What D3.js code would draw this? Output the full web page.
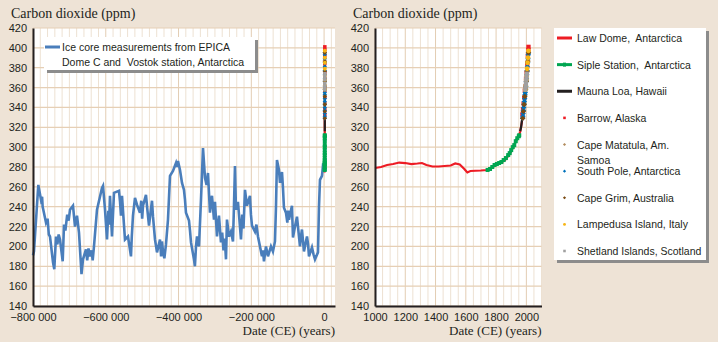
<!DOCTYPE html>
<html>
<head>
<meta charset="utf-8">
<script src="https://cdn.jsdelivr.net/npm/d3@7"></script>
<style>
  body { margin: 0; background: #EEE3D6; }
  svg { display: block; }
  text { white-space: pre; }
</style>
</head>
<body>
<svg id="chart" width="718" height="342"></svg>
<script>
// EPICA Dome C / Vostok ice core record (years CE, ppm)
const epicaYear = [-800000, -797300, -785400, -778000, -775000, -773500, -771700, -764300, -760000, -756500,
  -753300, -745000, -741500, -736800, -733000, -729500, -725800, -718400, -714800, -711000,
  -706000, -702000, -698300, -690100, -684600, -679100, -673600, -666700, -662600, -654400,
  -651000, -647500, -643400, -639000, -636000, -632400, -624100, -610400, -607600, -602100,
  -596600, -593000, -591000, -588400, -582900, -577400, -563700, -561000, -558200, -555400,
  -547200, -538900, -530700, -528500, -525200, -519700, -514200, -506000, -502500, -500000,
  -497700, -489500, -486000, -481200, -473000, -470200, -464700, -459200, -451000, -448000,
  -445500, -442800, -439000, -434500, -429000, -423500, -415300, -407000, -404500, -401500,
  -396000, -393000, -390500, -385100, -382500, -379600, -371300, -368500, -365800, -357600,
  -355000, -352000, -349300, -343800, -338300, -332800, -327300, -323000, -319100, -313600,
  -311000, -308100, -302600, -299900, -294400, -288900, -283400, -280000, -276500, -273000,
  -269600, -266900, -261400, -255900, -250400, -247700, -244900, -242200, -236700, -228400,
  -225000, -221500, -217400, -211900, -203700, -201000, -198200, -190000, -186000, -181700,
  -170700, -168000, -165200, -159700, -154200, -146000, -140500, -135000, -132200, -129500,
  -124000, -121200, -115700, -113000, -110300, -104800, -101000, -99000, -96500, -88300,
  -85500, -80000, -74500, -66300, -63500, -60800, -55300, -47000, -44000, -41500,
  -33300, -29000, -25000, -16800, -14000, -11300, -5800, -3100, -1000];
const epicaCO2 = [191, 195, 262, 247, 250, 240, 237, 224, 228, 212,
  210, 184, 177, 210, 202, 212, 207, 185, 222, 216,
  232, 226, 237, 241, 220, 231, 214, 172, 187, 197,
  186, 198, 190, 196, 186, 200, 237, 259, 261, 237,
  207, 236, 222, 251, 210, 254, 256, 246, 231, 251,
  207, 210, 190, 210, 231, 249, 242, 234, 246, 228,
  241, 252, 238, 221, 246, 230, 207, 194, 207, 190,
  205, 195, 188, 202, 227, 271, 276, 284, 280, 286,
  277, 270, 264, 257, 248, 234, 226, 216, 204, 187,
  180, 200, 210, 200, 247, 299, 269, 262, 274, 234,
  244, 251, 227, 245, 210, 231, 204, 214, 196, 208,
  187, 227, 210, 215, 205, 240, 281, 237, 245, 207,
  232, 218, 257, 241, 251, 232, 221, 215, 222, 210,
  190, 196, 185, 200, 190, 200, 195, 205, 240, 287,
  277, 264, 275, 259, 239, 234, 224, 236, 227, 241,
  209, 220, 230, 200, 210, 217, 195, 210, 202, 190,
  199, 192, 187, 194, 240, 267, 271, 281, 280];

// Law Dome, Antarctica
const lawDomeYear = [1000, 1040, 1080, 1120, 1160, 1200, 1240, 1280, 1310, 1340, 1380, 1420, 1460, 1500,
  1530, 1560, 1590, 1610, 1630, 1700, 1740, 1780, 1800, 1830, 1860, 1890, 1910, 1930, 1950, 1960, 1970, 1978];
const lawDomeCO2 = [279, 280, 282, 283, 284.5, 284, 283, 283.5, 284, 282, 280.5, 280.5, 281, 281.5,
  283.5, 282.5, 278, 274.5, 276, 276.5, 277, 280, 283, 284, 287, 293, 299, 306, 311, 316, 325, 334];

// Siple Station, Antarctica
const sipleYear = [1744, 1760, 1775, 1790, 1805, 1820, 1835, 1850, 1865, 1880, 1890, 1900, 1910, 1920, 1930, 1940, 1950, 1953];
const sipleCO2 = [277, 278, 280, 282, 283, 284, 285, 287, 289, 292, 294, 297, 300, 302, 306, 309, 311, 312];

// Mauna Loa, Hawaii
const maunaLoaYear = [1959, 1965, 1970, 1975, 1980, 1985, 1990, 1995, 2000, 2005, 2010, 2014];
const maunaLoaCO2 = [316, 320, 326, 331, 339, 346, 354, 361, 370, 380, 390, 398];

// flask stations
const barrowYear = [1974, 1978, 1982, 1986, 1990, 1994, 1998, 2002, 2006, 2010, 2013, 2014];
const barrowCO2 = [333, 338, 344, 350, 357, 361, 369, 375, 384, 392, 398, 401];
const matatulaYear = [1976, 1980, 1985, 1990, 1995, 2000, 2005, 2010, 2014];
const matatulaCO2 = [330, 337, 344, 352, 359, 367, 377, 387, 395];
const southPoleYear = [1975, 1977, 1979, 1981, 1983, 1985, 1987, 1989, 1991, 1993, 1995, 1997, 1999, 2001, 2003, 2005, 2007, 2009, 2011, 2013, 2014];
const southPoleCO2 = [329, 331, 334, 337, 340, 343, 346, 349, 353, 355, 358, 361, 366, 369, 373, 377, 381, 385, 389, 393, 395];
const capeGrimYear = [1976, 1980, 1985, 1990, 1995, 2000, 2005, 2010, 2014];
const capeGrimCO2 = [329, 336, 343, 351, 358, 366, 376, 386, 395];
const lampedusaYear = [1993, 1996, 1999, 2002, 2005, 2008, 2011, 2014];
const lampedusaCO2 = [358, 362, 368, 372, 379, 385, 390, 397];
const shetlandYear = [1993, 1995, 1997, 1999, 2001, 2003];
const shetlandCO2 = [358, 361, 364, 368, 371, 374];

const yTicks = [140, 160, 180, 200, 220, 240, 260, 280, 300, 320, 340, 360, 380, 400, 420];
const leftXTicks = [-800000, -600000, -400000, -200000, 0];
const rightXTicks = [1000, 1200, 1400, 1600, 1800, 2000];

const zip = (xs, ys) => xs.map((x, i) => ({ x: x, y: ys[i] }));

const lines = [
  { name: "Law Dome,  Antarctica", data: zip(lawDomeYear, lawDomeCO2), color: "#ED1C24", type: "line" },
  { name: "Siple Station,  Antarctica", data: zip(sipleYear, sipleCO2), color: "#00A651", type: "siple" },
  { name: "Mauna Loa, Hawaii", data: zip(maunaLoaYear, maunaLoaCO2), color: "#231F20", type: "line" },
  { name: "Barrow, Alaska", data: zip(barrowYear, barrowCO2), color: "#ED1C24", type: "square" },
  { name: "Cape Matatula, Am.|Samoa", data: zip(matatulaYear, matatulaCO2), color: "#B38D5F", type: "diamond" },
  { name: "South Pole, Antarctica", data: zip(southPoleYear, southPoleCO2), color: "#0072BC", type: "diamond" },
  { name: "Cape Grim, Australia", data: zip(capeGrimYear, capeGrimCO2), color: "#7A4A12", type: "diamond" },
  { name: "Lampedusa Island, Italy", data: zip(lampedusaYear, lampedusaCO2), color: "#F7B515", type: "circle" },
  { name: "Shetland Islands, Scotland", data: zip(shetlandYear, shetlandCO2), color: "#A0A0A0", type: "square" }
];

const svg = d3.select("#chart");
const plotTop = 28, plotBottom = 306;
const y = d3.scaleLinear().domain([140, 420]).range([plotBottom, plotTop]);

const sansFont = "'Liberation Sans', Arial, sans-serif";
const serifFont = "'Liberation Serif', 'Times New Roman', serif";
const spaceFmt = d3.formatLocale({ decimal: ".", thousands: "\u00a0", grouping: [3], currency: ["", ""], minus: "\u2212" }).format(",d");

function drawGrid(g, x, minorStep, majorTicks) {
  const [x0, x1] = x.domain();
  g.append("rect")
    .attr("x", x.range()[0]).attr("y", plotTop)
    .attr("width", x.range()[1] - x.range()[0]).attr("height", plotBottom - plotTop)
    .attr("fill", "#fff");
  const minor = d3.range(x0, x1 + 1, minorStep).filter(v => !majorTicks.includes(v));
  g.selectAll(".vminor").data(minor).enter().append("line")
    .attr("x1", d => x(d)).attr("x2", d => x(d))
    .attr("y1", plotTop).attr("y2", plotBottom)
    .attr("stroke", "#EDE1D2").attr("stroke-width", 1);
  g.selectAll(".vmajor").data(majorTicks).enter().append("line")
    .attr("x1", d => x(d)).attr("x2", d => x(d))
    .attr("y1", plotTop).attr("y2", plotBottom)
    .attr("stroke", "#E3CDB3").attr("stroke-width", 1);
  g.selectAll(".hgrid").data(yTicks).enter().append("line")
    .attr("x1", x.range()[0]).attr("x2", x.range()[1])
    .attr("y1", d => y(d)).attr("y2", d => y(d))
    .attr("stroke", "#E6CFB5").attr("stroke-width", 1.2);
}

function drawAxes(g, x, fmt, ticks) {
  g.append("g")
    .attr("transform", `translate(${x.range()[0]},0)`)
    .call(d3.axisLeft(y).tickValues(yTicks).tickSize(0).tickPadding(6))
    .call(a => a.select(".domain").attr("stroke", "#231F20").attr("stroke-width", 2))
    .selectAll("text").attr("font-family", sansFont).attr("font-size", 11).attr("fill", "#231F20");
  g.append("g")
    .attr("transform", `translate(0,${plotBottom})`)
    .call(d3.axisBottom(x).tickValues(ticks).tickSize(0).tickPadding(7).tickFormat(fmt))
    .call(a => a.select(".domain").attr("stroke", "#231F20").attr("stroke-width", 2))
    .selectAll("text").attr("font-family", sansFont).attr("font-size", 11).attr("fill", "#231F20");
  g.append("text")
    .attr("x", x.range()[0] - 22).attr("y", 18)
    .attr("font-family", serifFont).attr("font-size", 14).attr("fill", "#231F20")
    .text("Carbon dioxide (ppm)");
  g.append("text")
    .attr("x", x.range()[1]).attr("y", 335)
    .attr("text-anchor", "end")
    .attr("font-family", serifFont).attr("font-size", 13).attr("fill", "#231F20")
    .text("Date (CE) (years)");
}

function marker(sel, type, color, size) {
  const s = size;
  if (type === "diamond") {
    sel.append("path").attr("d", `M0,${-s}L${s},0L0,${s}L${-s},0Z`).attr("fill", color);
  } else if (type === "circle") {
    sel.append("circle").attr("r", s * 0.9).attr("fill", color);
  } else {
    sel.append("rect").attr("x", -s * 0.8).attr("y", -s * 0.8).attr("width", s * 1.6).attr("height", s * 1.6).attr("fill", color);
  }
}

function drawSeries(g, x, size) {
  const line = d3.line().x(d => x(d.x)).y(d => y(d.y));
  lines.forEach(s => {
    if (s.type === "line" || s.type === "siple") {
      g.append("path").datum(s.data)
        .attr("d", line).attr("fill", "none")
        .attr("stroke", s.color).attr("stroke-width", s.type === "siple" ? 2.5 : 2.2);
      if (s.type === "siple") {
        g.selectAll(null).data(s.data).enter().append("rect")
          .attr("x", d => x(d.x) - 2).attr("y", d => y(d.y) - 2)
          .attr("width", 4).attr("height", 4).attr("fill", s.color);
      }
    } else {
      g.selectAll(null).data(s.data).enter().append("g")
        .attr("transform", d => `translate(${x(d.x)},${y(d.y)})`)
        .each(function () { marker(d3.select(this), s.type, s.color, size); });
    }
  });
}

// left panel: 800 000 years
const xLeft = d3.scaleLinear().domain([-800000, 30000]).range([33, 335]);
const left = svg.append("g");
drawGrid(left, xLeft, 20000, leftXTicks);
left.append("path")
  .datum(zip(epicaYear, epicaCO2))
  .attr("d", d3.line().x(d => xLeft(d.x)).y(d => y(d.y)))
  .attr("fill", "none").attr("stroke", "#4A7EBB").attr("stroke-width", 2.6)
  .attr("stroke-linejoin", "miter");
drawSeries(left, xLeft, 2.2);
drawAxes(left, xLeft, spaceFmt, leftXTicks);

// left legend
const legL = left.append("g");
legL.append("rect").attr("x", 47).attr("y", 40).attr("width", 211).attr("height", 33).attr("fill", "#8C8C8C");
legL.append("rect").attr("x", 44).attr("y", 37).attr("width", 211).attr("height", 33).attr("fill", "#fff");
legL.append("line").attr("x1", 45).attr("x2", 60).attr("y1", 47).attr("y2", 47)
  .attr("stroke", "#4A7EBB").attr("stroke-width", 3);
legL.append("text").attr("x", 62).attr("y", 51)
  .attr("font-family", sansFont).attr("font-size", 10.5).attr("fill", "#231F20")
  .text("Ice core measurements from EPICA");
legL.append("text").attr("x", 62).attr("y", 66)
  .attr("font-family", sansFont).attr("font-size", 10.5).attr("fill", "#231F20")
  .text("Dome C and  Vostok station, Antarctica");

// right panel: last 1000 years
const xRight = d3.scaleLinear().domain([1000, 2100]).range([375, 541.5]);
const right = svg.append("g");
drawGrid(right, xRight, 50, rightXTicks);
drawSeries(right, xRight, 2.7);
drawAxes(right, xRight, d3.format("d"), rightXTicks);

// right legend
const legR = svg.append("g");
legR.append("rect").attr("x", 557).attr("y", 31).attr("width", 152).attr("height", 232).attr("fill", "#8C8C8C");
legR.append("rect").attr("x", 554).attr("y", 28).attr("width", 152).attr("height", 232).attr("fill", "#fff");
const legY = d3.scalePoint().domain(lines.map(d => d.name)).range([38, 251]);
lines.forEach(s => {
  const cy = legY(s.name);
  const item = legR.append("g").attr("transform", `translate(0,${cy})`);
  if (s.type === "line" || s.type === "siple") {
    item.append("line").attr("x1", 557).attr("x2", 572).attr("y1", 0).attr("y2", 0)
      .attr("stroke", s.color).attr("stroke-width", 3);
    if (s.type === "siple") {
      item.append("rect").attr("x", 563).attr("y", -2).attr("width", 3).attr("height", 4).attr("fill", s.color);
    }
  } else {
    const m = item.append("g").attr("transform", "translate(564.5,0)");
    marker(m, s.type, s.color, 1.6);
  }
  const t = item.append("text").attr("x", 577).attr("y", 4)
    .attr("font-family", sansFont).attr("font-size", 10.5).attr("fill", "#231F20");
  s.name.split("|").forEach((part, i) => {
    t.append("tspan").attr("x", 577).attr("dy", i === 0 ? 0 : 15).text(part);
  });
});
</script>
</body>
</html>
